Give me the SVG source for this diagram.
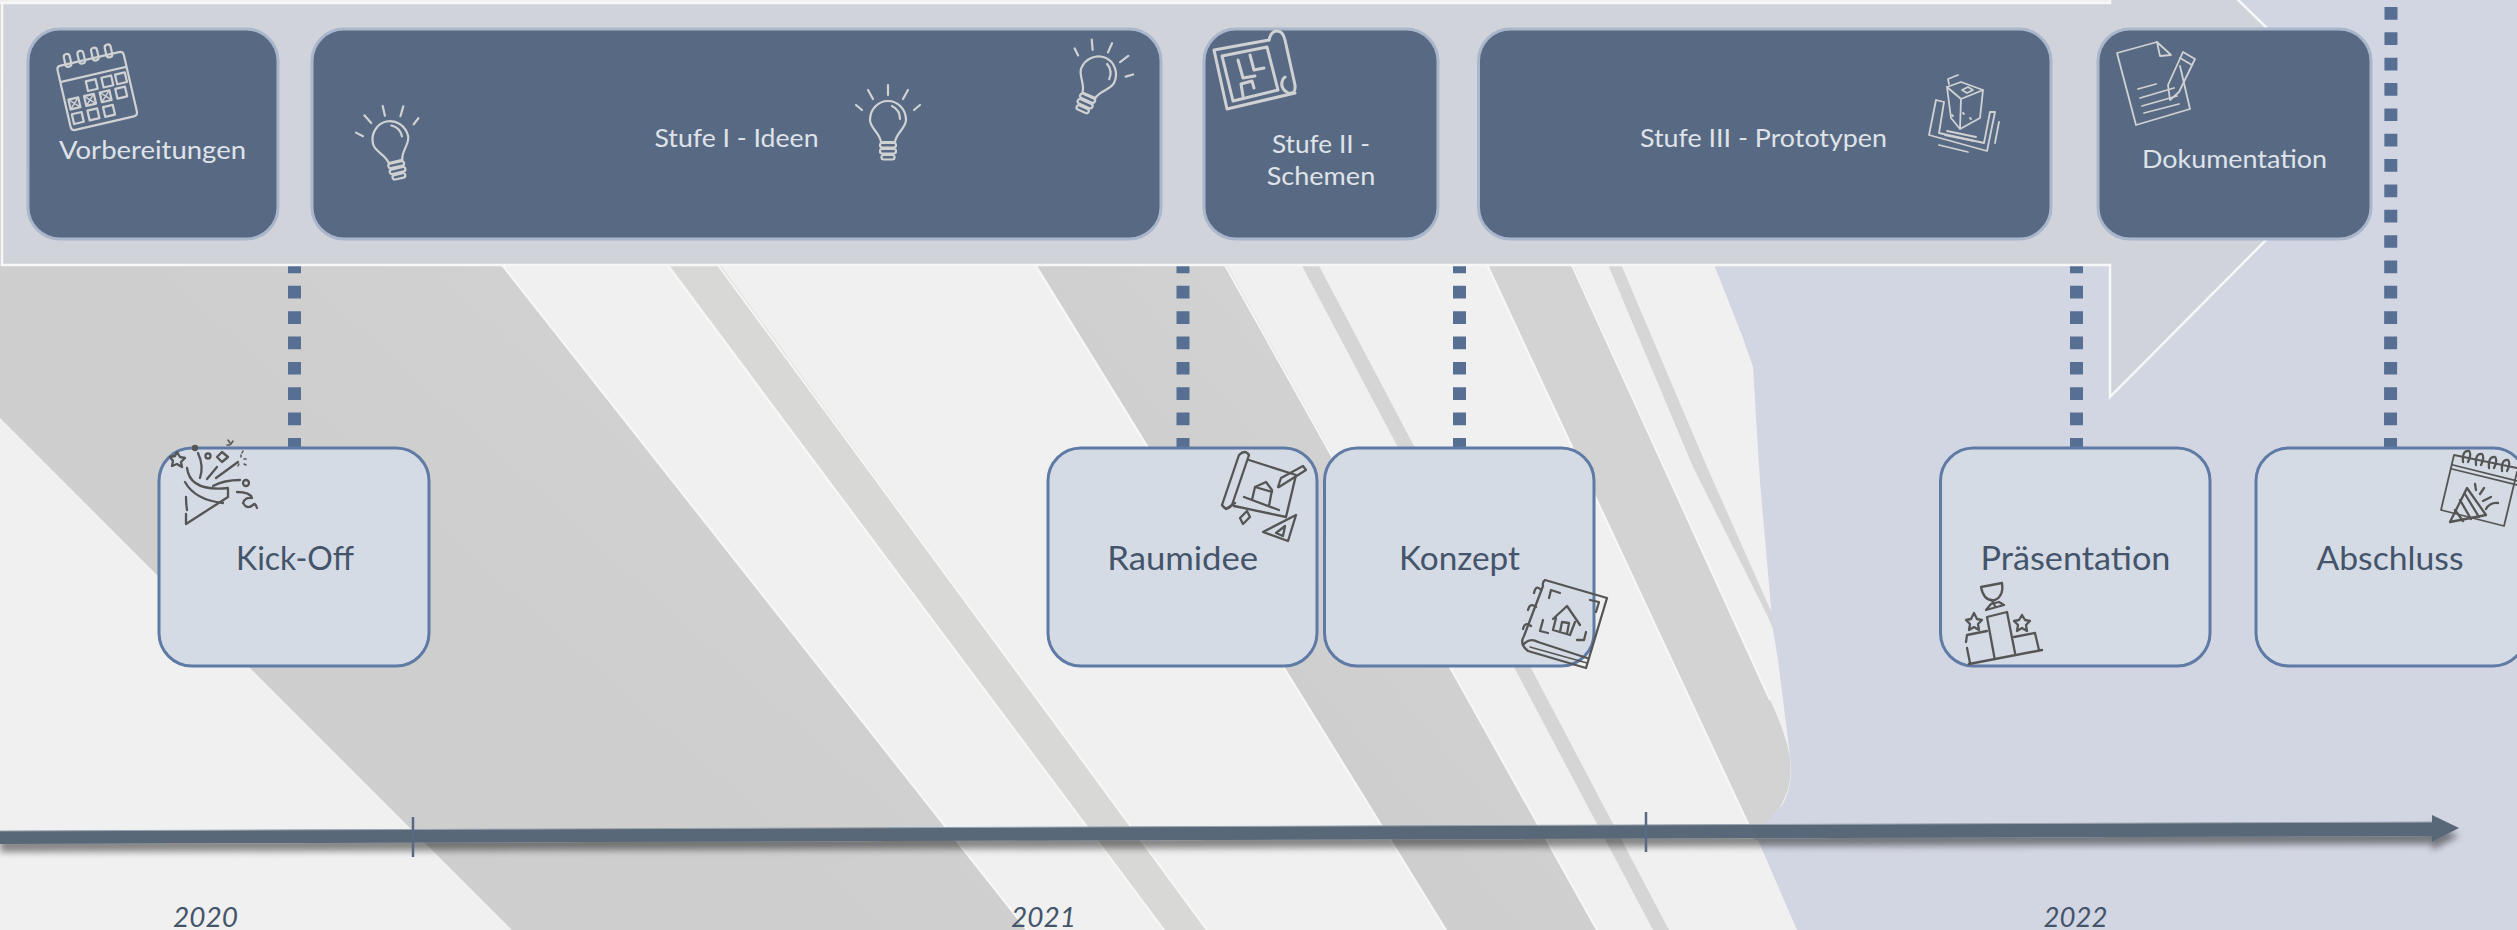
<svg xmlns="http://www.w3.org/2000/svg" width="2517" height="930" viewBox="0 0 2517 930">
<style>
.lab{font-family:Lato,"Liberation Sans",sans-serif;text-anchor:middle}
.d{fill:#dfe3e9;font-size:24.6px}
.l{fill:#44546a;font-size:33px}
.y{fill:#44546a;font-size:27.5px;font-style:italic}
.dn{fill:#586a83;stroke:#a9b6cc;stroke-width:3}
.ln{fill:#d5dbe4;stroke:#5f7ba5;stroke-width:3}
.ic{fill:none;stroke:#d0d1d3;stroke-width:2.2;stroke-linecap:round;stroke-linejoin:round}
.ik{fill:none;stroke:#555;stroke-width:2.3;stroke-linecap:round;stroke-linejoin:round}
.band{fill:url(#g)}
.conn{fill:none;stroke:#586f94;stroke-width:13;stroke-dasharray:12.7 12.65}
.edge{fill:none;stroke:#f7f7f7;stroke-width:2}
</style>
<defs>
<linearGradient id="g" x1="1" y1="0" x2="0" y2="1"><stop offset="0" stop-color="#d7d7d7"/><stop offset=".6" stop-color="#cecece"/><stop offset="1" stop-color="#cfcfcf"/></linearGradient>
<filter id="sh" x="-2%" y="-60%" width="104%" height="260%"><feDropShadow dx="0" dy="8" stdDeviation="3.5" flood-color="#000" flood-opacity=".45"/></filter>
<g id="bulb">
<path d="M-7 20C-8 11-18 6-18-2A18 19 0 0 1 18-2C18 6 8 11 7 20Z"/>
<path d="M4-16Q12-12 12-3"/>
<rect x="-8" y="21" width="16" height="4.5" rx="2.2"/><rect x="-8" y="27" width="16" height="4.5" rx="2.2"/><rect x="-6.5" y="33" width="13" height="4.5" rx="2.2"/>
<path d="M0-27V-37M-15-23L-20-32M15-23L20-32M-26-12L-32-17M26-12L32-17"/>
</g>
</defs>
<g id="background">
<rect width="2517" height="930" fill="#f0f0f0"/>
<polygon class="band" points="0,418 512,930 1027,930 502,265 490,4 0,4"/>
<polyline class="edge" points="502,265 1027,930"/>
<polygon fill="#d8d8d6" points="667,262 718,262 1207,930 1164,930"/>
<polyline class="edge" points="667,265 1164,930"/>
<polyline class="edge" points="718,265 1207,930"/>
<polygon class="band" points="1035,262 1225,262 1597,930 1446,930"/>
<polyline class="edge" points="1225,265 1597,930"/>
<polyline class="edge" points="1035,265 1446,930"/>
<polygon fill="#d5d5d5" points="1300,262 1317,262 1669,930 1653,930"/>
<path fill="#d3d3d3" d="M1487 262L1572 262L1770 700C1782 725 1788 745 1790 758C1792 775 1790 790 1780 807L1767 824L1763 840L1755 840Z"/>
<polyline class="edge" points="1572,265 1770,700"/>
<polyline class="edge" points="1487,265 1750,828"/>
<polygon fill="#d6d6d6" points="1607,262 1620,262 1707,467 1775,620 1776,636 1767,615 1693,467"/>
<path fill="#d2d6e2" d="M1700 230L1715 267L1743 338L1753 367L1760 482L1773 630L1778 660L1790 756C1793 775 1790 790 1783 804L1763 826L1758 840L1797 930H2517V0H2240L2200 4H1700Z"/>
</g>
<g id="timeline">
<path fill="#596779" filter="url(#sh)" d="M0 831L2432 822V815L2459 828L2432 842V836L0 844Z"/>
<path d="M0 831L2432 822" stroke="#9aa3ad" stroke-width="1" fill="none"/>
<path d="M413 817V857M1646 812V852" stroke="#586a83" stroke-width="2.5" fill="none"/>
</g>
<g id="connectors">
<line class="conn" x1="294.5" y1="7" x2="294.5" y2="448"/>
<line class="conn" x1="1183" y1="7" x2="1183" y2="448"/>
<line class="conn" x1="1459.5" y1="7" x2="1459.5" y2="448"/>
<line class="conn" x1="2076.5" y1="7" x2="2076.5" y2="448"/>
<line class="conn" x1="2391" y1="7" x2="2390.5" y2="448"/>
</g>
<g id="panel">
<polygon fill="#d0d3d9" stroke="#f7f7f7" stroke-width="2.5" points="2,3 2110,3 2110,-4 2234,-4 2266,27 2266,240 2110,397 2110,265 2,265"/>
</g>
<g id="node-vorbereitungen">
<rect class="dn" x="28" y="29" width="250" height="210" rx="32"/>
<g class="ic" transform="translate(97 90) rotate(-13)">
<path d="M-34-28V30Q-34 34-30 34H30Q34 34 34 30V-28M-34-28Q-34-32-30-32H30Q34-32 34-28M-34-16H34"/>
<rect x="-25" y="-42" width="6" height="13" rx="3"/><rect x="-11" y="-42" width="6" height="13" rx="3"/><rect x="3" y="-42" width="6" height="13" rx="3"/><rect x="17" y="-42" width="6" height="13" rx="3"/>
<rect x="-9" y="-11" width="10" height="10"/><rect x="7" y="-11" width="10" height="10"/><rect x="21" y="-11" width="10" height="10"/>
<rect x="-30" y="3" width="10" height="10"/><rect x="-14" y="3" width="10" height="10"/><rect x="2" y="3" width="10" height="10"/><rect x="18" y="3" width="10" height="10"/>
<path d="M-30 3L-20 13M-20 3L-30 13M-14 3L-4 13M-4 3L-14 13M2 3L12 13M12 3L2 13" stroke-width="1.5"/>
<rect x="-30" y="18" width="10" height="10"/><rect x="-14" y="18" width="10" height="10"/><rect x="2" y="18" width="10" height="10"/>
</g>
<text class="lab d" x="152.5" y="159" textLength="187" lengthAdjust="spacingAndGlyphs">Vorbereitungen</text>
</g>
<g id="node-stufe-1">
<rect class="dn" x="312" y="29" width="849" height="210" rx="32"/>
<use href="#bulb" class="ic" transform="translate(391 142) rotate(-13)"/>
<use href="#bulb" class="ic" transform="translate(888 122)"/>
<use href="#bulb" class="ic" transform="translate(1097 77) rotate(24)"/>
<text class="lab d" x="736.5" y="147" textLength="164" lengthAdjust="spacingAndGlyphs">Stufe I - Ideen</text>
</g>
<g id="node-stufe-2">
<rect class="dn" x="1204" y="29" width="234" height="210" rx="32"/>
<g class="ic" style="stroke-width:3">
<path d="M1214 50L1269 40M1214 50L1227 109L1295 93"/>
<path d="M1269 40Q1271 31 1277 31Q1283 31 1285 40L1295 85Q1296 95 1288 93Q1279 88 1283 79L1285 77"/>
<path d="M1222 56L1267 47L1278 90L1233 101Z"/>
<path d="M1238 60L1243 78L1255 76M1250 55L1254 70L1264 68M1243 96L1241 84L1252 81L1254 88"/>
</g>
<text class="lab d" x="1321" y="153" textLength="98" lengthAdjust="spacingAndGlyphs">Stufe II -</text>
<text class="lab d" x="1321" y="185" textLength="108.6" lengthAdjust="spacingAndGlyphs">Schemen</text>
</g>
<g id="node-stufe-3">
<rect class="dn" x="1478.5" y="29" width="572.5" height="210" rx="32"/>
<g class="ic" style="stroke-width:1.8">
<path d="M1947 87L1961 82L1983 90L1961 99ZM1947 87L1951 118L1960 129L1980 118L1983 90M1961 99L1960 129"/>
<path d="M1962 90L1968 87L1973 90L1967 93Z"/>
<path d="M1949 84L1948 79L1958 75"/>
<path d="M1936 100L1929 135L1987 151L1995 112L1990 112M1944 102L1939 133L1984 143L1990 112M1936 100L1944 102"/>
<path d="M1947 131L1976 137M1945 135L1974 141"/>
<path d="M1939 145L1968 152M1999 122L1995 143"/>
<path d="M1952 115L1953 116M1963 113L1964 114M1970 118L1971 119"/>
</g>
<text class="lab d" x="1763.5" y="147" textLength="247" lengthAdjust="spacingAndGlyphs">Stufe III - Prototypen</text>
</g>
<g id="node-dokumentation">
<rect class="dn" x="2098" y="29" width="273" height="210" rx="32"/>
<g class="ic" style="stroke-width:1.8">
<path d="M2157 42L2117 53L2136 125L2190 109L2180 66"/>
<path d="M2157 42L2171 55L2160 56Z"/>
<path d="M2138 89L2156 84M2140 98L2174 88M2142 106L2177 96M2144 113L2179 104"/>
<path d="M2168 85L2183 52L2195 59L2179 92L2170 100Z"/>
<path d="M2180 58L2192 65"/>
</g>
<text class="lab d" x="2234.5" y="168" textLength="185" lengthAdjust="spacingAndGlyphs">Dokumentation</text>
</g>
<g id="node-kick-off">
<rect class="ln" x="159" y="448" width="270" height="218" rx="33"/>
<g class="ik">
<path d="M186 524L228 497M186 524L186 514M186 497Q186 504 187 510M187 468Q190 492 228 488L228 497M185 482Q195 500 223 503"/>
<path d="M198 453Q204 466 200 478M217 467L207 479M238 462L216 478M213 486Q224 480 240 480"/>
<circle cx="208" cy="456" r="2.5"/><path d="M222 452L228 457L222 462L217 457Z"/>
<path d="M177 452L180 457L185 458L181 462L182 467L177 464L172 466L173 461L170 457L175 456Z"/>
<circle cx="195" cy="448" r="2" fill="#555"/>
<path d="M241 455V457M246 459H244M246 465L244 464M238 466L239 464M243 451L242 453M228 440L230 443M233 441L231 444M227 445L230 445" stroke-width="1.5"/>
<circle cx="246" cy="483" r="3"/>
<path d="M237 492Q250 492 252 498Q245 497 243 503Q247 510 253 505Q255 502 257 508"/>
</g>
<text class="lab l" x="295" y="570" textLength="118" lengthAdjust="spacingAndGlyphs">Kick-Off</text>
</g>
<g id="node-raumidee">
<rect class="ln" x="1048" y="448" width="269" height="218" rx="33"/>
<g class="ik">
<path d="M1239 455Q1245 449 1249 455L1232 505Q1226 512 1222 505Z"/>
<path d="M1222 505L1226 509L1235 503"/>
<path d="M1249 460L1296 475L1286 517L1234 506"/>
<path d="M1306 470L1279 487L1278 487L1281 478L1303 466Z"/>
<path d="M1244 497L1279 510M1252 500L1255 487L1266 482L1272 490L1269 506M1255 487L1272 492"/>
<path d="M1240 518L1247 511L1250 517L1243 524Z"/>
<path d="M1296 515L1263 532L1288 541Z"/><path d="M1285 526L1276 533L1283 536Z"/>
</g>
<text class="lab l" x="1182.7" y="570" textLength="151" lengthAdjust="spacingAndGlyphs">Raumidee</text>
</g>
<g id="node-konzept">
<rect class="ln" x="1324.5" y="448" width="269.5" height="218" rx="33"/>
<g class="ik">
<path d="M1545 580L1607 598L1586 668L1528 651Q1519 644 1524 636L1543 586Q1542 582 1545 580Z"/>
<path d="M1523 645Q1530 637 1538 642L1587 658"/>
<path d="M1534 593Q1536 584 1541 590M1528 610Q1530 602 1536 607M1523 629Q1525 621 1531 626"/>
<path d="M1530 647L1587 663" stroke-width="1.5"/>
<path d="M1551 590L1549 598M1551 590L1560 593M1590 600L1599 602L1596 612M1543 620L1540 631L1548 633M1577 640L1584 640L1586 632"/>
<path d="M1553 619L1567 606L1580 625M1556 618L1553 630L1570 635L1575 622M1560 632L1562 622L1569 623L1567 634"/>
</g>
<text class="lab l" x="1459.5" y="570" textLength="121" lengthAdjust="spacingAndGlyphs">Konzept</text>
</g>
<g id="node-praesentation">
<rect class="ln" x="1940.5" y="448" width="269.5" height="218" rx="33"/>
<g class="ik">
<path d="M1969 664L2042 650" stroke-width="2.5"/>
<path d="M1994.5 658L1987 617L2007 612L2015 653"/>
<path d="M1970 663L1967 648M1966 642L1967 635L1987 631"/>
<path d="M2014 637L2035 633L2039 650"/>
<path d="M1981 587L2002 583Q2004 596 1995 600Q1984 602 1981 587ZM1992 601L1995 606M1986 610L2004 605L1999 602L1991 604Z"/>
<path d="M1974 613L1977 619L1982 620L1978 624L1979 630L1974 627L1969 630L1970 624L1966 620L1971 619Z"/>
<path d="M2022 615L2025 620L2030 621L2026 625L2027 631L2022 628L2017 631L2018 625L2014 621L2019 620Z"/>
</g>
<text class="lab l" x="2075.5" y="570" textLength="190" lengthAdjust="spacingAndGlyphs">Präsentation</text>
</g>
<g id="node-abschluss">
<rect class="ln" x="2256" y="448" width="270" height="218" rx="33"/>
<g class="ik">
<path d="M2454 455L2517 468M2454 455L2441 510L2504 526L2517 472M2453 465L2517 481M2452 469L2517 485" stroke-width="1.8"/>
<path d="M2463 462Q2462 450 2469 451Q2472 454 2468 462M2476 465Q2475 453 2482 454Q2485 457 2481 465M2489 468Q2488 456 2495 457Q2498 460 2494 468M2502 471Q2501 459 2508 460Q2511 463 2507 471"/>
<path d="M2450 522L2467 488L2486 515Z"/>
<path d="M2460 500L2471 519M2455 510L2463 521M2465 494L2479 517"/>
<path d="M2475 484L2476 490M2484 488L2480 494M2491 497L2483 501M2498 503Q2490 502 2486 509"/>
</g>
<text class="lab l" x="2390" y="570" textLength="147" lengthAdjust="spacingAndGlyphs">Abschluss</text>
</g>
<g id="years">
<text class="lab y" x="205.5" y="927" textLength="65" lengthAdjust="spacingAndGlyphs">2020</text>
<text class="lab y" x="1043.5" y="927" textLength="65" lengthAdjust="spacingAndGlyphs">2021</text>
<text class="lab y" x="2075.5" y="927" textLength="64" lengthAdjust="spacingAndGlyphs">2022</text>
</g>
</svg>
